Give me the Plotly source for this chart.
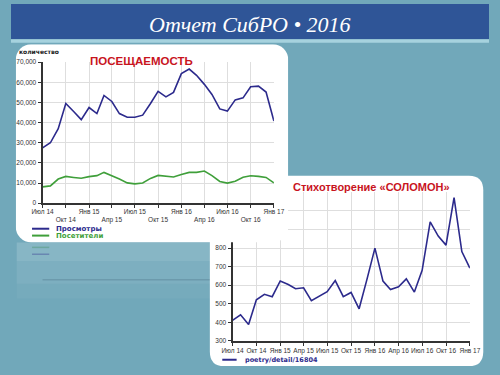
import base64
import pandas as pd
import plotly.graph_objects as go

W, H = 500, 375

# ---------------- data ----------------
months = pd.date_range("2014-07-01", "2017-01-01", freq="MS")

views = [27500, 30000, 37000, 49500, 45500, 41500, 47500, 44500, 53500, 50500,
         44500, 42700, 42700, 43700, 49500, 55500, 52800, 55000, 64300, 66600,
         63500, 59000, 54000, 46800, 45700, 51300, 52300, 57800, 58100, 55200, 40800]
visitors = [8100, 8600, 12000, 13300, 12800, 12400, 13200, 13700, 15300, 13700,
            12000, 10100, 9600, 10000, 12300, 13800, 13300, 13000, 14300, 15300,
            15300, 16000, 13700, 10800, 10000, 10900, 12900, 13600, 13300, 12800, 10100]
poem = [411, 441, 388, 521, 551, 538, 623, 604, 581, 586, 517, 542, 565, 625,
        538, 561, 473, 630, 800, 622, 577, 591, 634, 563, 680, 941, 865, 816,
        1072, 781, 692]

tick_dates = ["2014-07-01", "2014-10-01", "2015-01-01", "2015-04-01", "2015-07-01",
              "2015-10-01", "2016-01-01", "2016-04-01", "2016-07-01", "2016-10-01",
              "2017-01-01"]
tick_labels = ["Июл 14", "Окт 14", "Янв 15", "Апр 15", "Июл 15", "Окт 15",
               "Янв 16", "Апр 16", "Июл 16", "Окт 16", "Янв 17"]
poem_yticks = [300, 400, 500, 600, 700, 800, 900, 1000, 1100]
poem_ytext = ["300", "400", "500", "600", "700", "800", "", "", ""]  # upper ones hidden by card

series1_names = ["Просмотры", "Посетители"]
series2_name = "poetry/detail/16804"

NAVY = "#2c2a8c"
GREEN = "#3f9f3a"
RED = "#c8141e"
TEAL = "#71a8ba"

# ---------------- helpers (pixel -> paper) ----------------
def X(p):
    return p / W

def Y(p):
    return 1 - p / H

def rrect(x0, y0, x1, y1, r):
    return (f"M {X(x0+r)},{Y(y0)} L {X(x1-r)},{Y(y0)} Q {X(x1)},{Y(y0)} {X(x1)},{Y(y0+r)} "
            f"L {X(x1)},{Y(y1-r)} Q {X(x1)},{Y(y1)} {X(x1-r)},{Y(y1)} L {X(x0+r)},{Y(y1)} "
            f"Q {X(x0)},{Y(y1)} {X(x0)},{Y(y1-r)} L {X(x0)},{Y(y0+r)} Q {X(x0)},{Y(y0)} {X(x0+r)},{Y(y0)} Z")

# plot areas in pixels
C1 = dict(l=33, r=275, t=59.3, b=203)
C2 = dict(l=231.7, r=480, t=192, b=343.3)

fig = go.Figure()

fig.add_trace(go.Scatter(x=months, y=views, name=series1_names[0], mode="lines",
                         line=dict(color=NAVY, width=1.6), xaxis="x2", yaxis="y2"))
fig.add_trace(go.Scatter(x=months, y=visitors, name=series1_names[1], mode="lines",
                         line=dict(color=GREEN, width=1.6), xaxis="x2", yaxis="y2"))
fig.add_trace(go.Scatter(x=months, y=poem, name=series2_name, mode="lines",
                         line=dict(color=NAVY, width=1.6), xaxis="x", yaxis="y"))

tickfont = dict(family="Liberation Sans, Arial", size=6.5, color="#333333")
ticktext1 = [t if i % 2 == 0 else "<br>" + t for i, t in enumerate(tick_labels)]

axis_common = dict(showgrid=True, gridcolor="#dedede", gridwidth=1, zeroline=False,
                   showline=True, linecolor="#333333", linewidth=2, ticks="outside",
                   ticklen=3, tickcolor="#333333", tickfont=tickfont, fixedrange=True)

fig.update_layout(
    width=W, height=H, autosize=False,
    margin=dict(l=0, r=0, t=0, b=0),
    paper_bgcolor=TEAL, plot_bgcolor="rgba(0,0,0,0)",
    showlegend=False, hovermode=False,
    # chart 2 (drawn first / below)
    xaxis=dict(domain=[X(C2["l"]), X(C2["r"])], type="date",
               range=["2014-07-01", "2017-01-01"], tickmode="array",
               tickvals=tick_dates, ticktext=tick_labels, tickangle=0,
               ticklabelstandoff=-1, anchor="y", **axis_common),
    yaxis=dict(domain=[Y(C2["b"]), Y(C2["t"])], range=[300, 1100], tickmode="array",
               tickvals=poem_yticks, ticktext=poem_ytext, anchor="x", **axis_common),
    # chart 1 (drawn on top)
    xaxis2=dict(domain=[X(C1["l"]), X(C1["r"])], type="date",
                range=["2014-07-01", "2017-01-01"], tickmode="array",
                tickvals=tick_dates, ticktext=ticktext1, tickangle=0,
                ticklabelstandoff=-2, anchor="y2", **axis_common),
    yaxis2=dict(domain=[Y(C1["b"]), Y(C1["t"])], range=[0, 70000], dtick=10000,
                tickformat=",d", anchor="x2", **axis_common),
)

# ---------------- background shapes ----------------
shapes = [
    dict(type="rect", xref="paper", yref="paper", x0=0, x1=1, y0=Y(36), y1=1,
         fillcolor="#2f5597", line_width=0, layer="below"),
    dict(type="rect", xref="paper", yref="paper", x0=0, x1=1, y0=Y(39.5), y1=Y(36),
         fillcolor="#a6d2de", line_width=0, layer="below"),
    # reflection under panel 1
    dict(type="rect", xref="paper", yref="paper", x0=X(6), x1=X(289), y0=Y(262), y1=Y(243),
         fillcolor="rgba(255,255,255,0.16)", line_width=0, layer="below"),
    dict(type="rect", xref="paper", yref="paper", x0=X(6), x1=X(289), y0=Y(285), y1=Y(262),
         fillcolor="rgba(255,255,255,0.09)", line_width=0, layer="below"),
    dict(type="rect", xref="paper", yref="paper", x0=X(6), x1=X(289), y0=Y(300), y1=Y(285),
         fillcolor="rgba(255,255,255,0.04)", line_width=0, layer="below"),
    dict(type="line", xref="paper", yref="paper", x0=X(33), x1=X(275), y0=Y(281), y1=Y(281),
         line=dict(color="rgba(60,90,110,0.25)", width=1.5), layer="below"),
    dict(type="line", xref="paper", yref="paper", x0=X(22), x1=X(40), y0=Y(248), y1=Y(248),
         line=dict(color="rgba(60,140,90,0.35)", width=1.5), layer="below"),
    dict(type="line", xref="paper", yref="paper", x0=X(22), x1=X(40), y0=Y(255), y1=Y(255),
         line=dict(color="rgba(50,50,140,0.35)", width=1.5), layer="below"),
    # panel 2
    dict(type="path", xref="paper", yref="paper", path=rrect(208, 175, 494, 369, 15),
         fillcolor="#ffffff", line_width=0, layer="below"),
    # legend swatches
    dict(type="line", xref="paper", yref="paper", x0=X(22), x1=X(40), y0=Y(229), y1=Y(229),
         line=dict(color=NAVY, width=2), layer="above"),
    dict(type="line", xref="paper", yref="paper", x0=X(22), x1=X(40), y0=Y(236), y1=Y(236),
         line=dict(color=GREEN, width=2), layer="above"),
    dict(type="line", xref="paper", yref="paper", x0=X(221), x1=X(236), y0=Y(362.5), y1=Y(362.5),
         line=dict(color=NAVY, width=2), layer="above"),
]
fig.update_layout(shapes=shapes)

# panel 1: white rounded card living in chart-1 subplot layer (covers chart 2 beneath)
p1 = dict(l=5, t=41, r=290, b=243)
pw, ph = p1["r"] - p1["l"], p1["b"] - p1["t"]
svg = (f"<svg xmlns='http://www.w3.org/2000/svg' width='{pw}' height='{ph}' "
       f"viewBox='0 0 {pw} {ph}'><rect x='0' y='0' width='{pw}' height='{ph}' "
       f"rx='16' ry='16' fill='#ffffff'/></svg>")
src = "data:image/svg+xml;base64," + base64.b64encode(svg.encode()).decode()
c1w, c1h = C1["r"] - C1["l"], C1["b"] - C1["t"]
fig.add_layout_image(dict(
    source=src, xref="x2 domain", yref="y2 domain",
    x=(p1["l"] - C1["l"]) / c1w, y=(C1["b"] - p1["t"]) / c1h,
    sizex=pw / c1w, sizey=ph / c1h, xanchor="left", yanchor="top",
    sizing="stretch", layer="below"))

# ---------------- text ----------------
ann = [
    dict(text="<i>Отчет СибРО • 2016</i>", x=0.5, y=Y(20.5),
         font=dict(family="Liberation Serif, Times New Roman", size=22, color="#ffffff")),
    dict(text="<b>ПОСЕЩАЕМОСТЬ</b>", x=X(136), y=Y(58),
         font=dict(family="Liberation Sans, Arial", size=11.5, color=RED)),
    dict(text="<b>Стихотворение «СОЛОМОН»</b>", x=X(377), y=Y(186),
         font=dict(family="Liberation Sans, Arial", size=11, color=RED)),
    dict(text="<b>количество</b>", x=X(6), y=Y(48), xanchor="left",
         font=dict(family="DejaVu Sans", size=6, color="#222222")),
    dict(text=f"<b>{series1_names[0]}</b>", x=X(45), y=Y(229), xanchor="left",
         font=dict(family="DejaVu Sans", size=7, color=NAVY)),
    dict(text=f"<b>{series1_names[1]}</b>", x=X(45), y=Y(236), xanchor="left",
         font=dict(family="DejaVu Sans", size=7, color=GREEN)),
    dict(text=f"<b>{series2_name}</b>", x=X(243), y=Y(362.5), xanchor="left",
         font=dict(family="DejaVu Sans", size=6.5, color=NAVY)),
]
for a in ann:
    a.setdefault("xanchor", "center")
    a.update(xref="paper", yref="paper", yanchor="middle", showarrow=False)
    fig.add_annotation(**a)

fig.write_html("out.html", config={"displayModeBar": False},
               post_script="document.body.style.margin='0';document.body.style.overflow='hidden';")
